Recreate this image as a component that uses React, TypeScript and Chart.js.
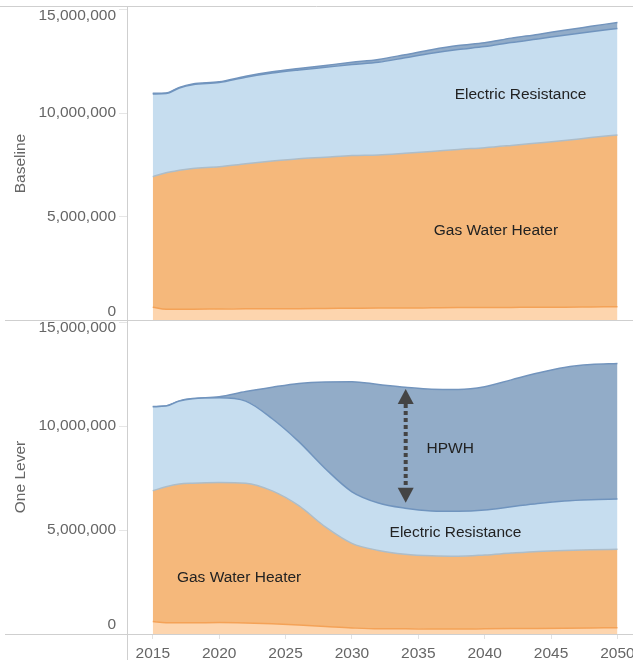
import React, { useEffect, useRef } from 'react';
import { Chart, registerables } from 'chart.js';

Chart.register(...registerables);

const years = [2015, 2016, 2017, 2018, 2020, 2022, 2024, 2026, 2028, 2030, 2032, 2034, 2036, 2038, 2040, 2042, 2044, 2046, 2048, 2050];
const xTickYears = [2015, 2020, 2025, 2030, 2035, 2040, 2045, 2050];
const yTickValues = [0, 5000000, 10000000, 15000000];

const seriesNames = ['Other Gas', 'Gas Water Heater', 'Electric Resistance', 'HPWH'];
const panelTitles = ['Baseline', 'One Lever'];

// Baseline scenario
const baselineOtherGas = [620000, 520000, 520000, 520000, 530000, 540000, 550000, 550000, 560000, 570000, 580000, 580000, 590000, 600000, 600000, 610000, 620000, 620000, 630000, 640000];
const baselineGasWaterHeater = [6310000, 6600000, 6720000, 6810000, 6880000, 7020000, 7140000, 7250000, 7310000, 7380000, 7400000, 7480000, 7560000, 7650000, 7730000, 7830000, 7940000, 8060000, 8190000, 8310000];
const baselineElectricResistance = [4000000, 3830000, 3980000, 4050000, 4070000, 4180000, 4250000, 4290000, 4350000, 4400000, 4480000, 4620000, 4750000, 4830000, 4890000, 4980000, 5030000, 5090000, 5120000, 5150000];
const baselineHpwh = [30000, 30000, 30000, 30000, 40000, 50000, 60000, 70000, 90000, 110000, 140000, 150000, 170000, 190000, 190000, 210000, 220000, 240000, 260000, 290000];

// One Lever scenario
const leverOtherGas = [600000, 540000, 540000, 540000, 550000, 530000, 490000, 430000, 360000, 290000, 250000, 250000, 240000, 240000, 250000, 260000, 270000, 280000, 290000, 300000];
const leverGasWaterHeater = [6290000, 6540000, 6670000, 6710000, 6730000, 6720000, 6390000, 5740000, 4790000, 4070000, 3770000, 3590000, 3520000, 3500000, 3550000, 3630000, 3700000, 3740000, 3760000, 3770000];
const leverElectricResistance = [4040000, 3880000, 3990000, 4060000, 4080000, 3950000, 3470000, 3080000, 2800000, 2480000, 2280000, 2210000, 2160000, 2160000, 2160000, 2230000, 2310000, 2380000, 2410000, 2420000];
const leverHpwh = [10000, 10000, 10000, 10000, 50000, 460000, 1520000, 2800000, 4170000, 5290000, 5700000, 5820000, 5850000, 5860000, 5930000, 6100000, 6270000, 6420000, 6500000, 6520000];

// In-chart labels (data coordinates)
const baselineLabels = [
  { text: 'Electric Resistance', x: 2042.7, y: 10880000 },
  { text: 'Gas Water Heater', x: 2040.85, y: 4300000 },
];
const leverLabels = [
  { text: 'HPWH', x: 2037.4, y: 8890000 },
  { text: 'Electric Resistance', x: 2037.8, y: 4870000 },
  { text: 'Gas Water Heater', x: 2021.5, y: 2710000 },
];
const leverArrow = { x: 2034.05, top: 11780000, bottom: 6310000 };

const FONT = '"Liberation Sans", Arial, sans-serif';
const FS = 15.5;

const fills = ['#fdd5ae', '#f5b87b', '#c6ddef', '#92acc8'];
const borders = ['#f4a257', '#adbdc9', '#7094be', '#7294bd'];

function buildDatasets(values: number[][]) {
  return values.map((vals, i) => ({
    label: seriesNames[i],
    data: years.map((yr, k) => ({ x: yr, y: vals[k] })),
    fill: i === 0 ? 'origin' : '-1',
    backgroundColor: fills[i],
    borderColor: borders[i],
    borderWidth: 1.5,
    pointRadius: 0,
    pointHoverRadius: 0,
    cubicInterpolationMode: 'monotone',
  }));
}

type PanelCfg = {
  title: string;
  values: number[][];
  yMax: number;
  showX: boolean;
  zeroShift: number;
  topShift: number;
  labels: { text: string; x: number; y: number }[];
  arrow?: { x: number; top: number; bottom: number };
  padTop: number;
};

function makePlugin(cfg: PanelCfg) {
  return {
    id: 'panelDecor',
    beforeDraw(chart: any) {
      const s = chart.scales.y;
      const items = s.getLabelItems();
      items.forEach((it: any) => {
        if (it.__shifted) return;
        it.__shifted = true;
        if (it.label === '0') it.options.translation[1] += cfg.zeroShift;
        if (it.label === '15,000,000') it.options.translation[1] += cfg.topShift;
      });
    },
    afterDatasetsDraw(chart: any) {
      const { ctx, scales } = chart;
      const xs = scales.x;
      const ys = scales.y;
      ctx.save();
      ctx.font = `${FS}px ${FONT}`;
      ctx.fillStyle = '#222';
      ctx.textAlign = 'center';
      ctx.textBaseline = 'middle';
      cfg.labels.forEach((l) => {
        ctx.fillText(l.text, xs.getPixelForValue(l.x), ys.getPixelForValue(l.y));
      });
      if (cfg.arrow) {
        const ax = xs.getPixelForValue(cfg.arrow.x);
        const yt = ys.getPixelForValue(cfg.arrow.top);
        const yb = ys.getPixelForValue(cfg.arrow.bottom);
        const head = 15;
        const hw = 8;
        ctx.fillStyle = '#444';
        ctx.strokeStyle = '#444';
        ctx.lineWidth = 4;
        ctx.setLineDash([4, 3]);
        ctx.beginPath();
        ctx.moveTo(ax, yt + head);
        ctx.lineTo(ax, yb - head);
        ctx.stroke();
        ctx.setLineDash([]);
        ctx.beginPath();
        ctx.moveTo(ax, yt);
        ctx.lineTo(ax - hw, yt + head);
        ctx.lineTo(ax + hw, yt + head);
        ctx.closePath();
        ctx.fill();
        ctx.beginPath();
        ctx.moveTo(ax, yb);
        ctx.lineTo(ax - hw, yb - head);
        ctx.lineTo(ax + hw, yb - head);
        ctx.closePath();
        ctx.fill();
      }
      ctx.restore();
    },
    afterDraw(chart: any) {
      const { ctx, chartArea, width, height } = chart;
      ctx.save();
      ctx.strokeStyle = '#cfcfcf';
      ctx.lineWidth = 1;
      ctx.beginPath();
      if (!cfg.showX) {
        const y = Math.round(chartArea.top) - 0.5;
        ctx.moveTo(0, y);
        ctx.lineTo(width, y);
      } else {
        ctx.moveTo(5, 0.5);
        ctx.lineTo(width, 0.5);
        const yb = Math.round(chartArea.bottom) + 0.5;
        ctx.moveTo(5, yb);
        ctx.lineTo(width, yb);
        const xl = Math.round(chartArea.left) + 0.5;
        ctx.moveTo(xl, chartArea.bottom);
        ctx.lineTo(xl, height);
      }
      ctx.stroke();
      ctx.restore();
    },
  };
}

function createPanel(canvas: HTMLCanvasElement, cfg: PanelCfg) {
  return new Chart(canvas, {
    type: 'line',
    data: { datasets: buildDatasets(cfg.values) as any },
    plugins: [makePlugin(cfg)],
    options: {
      animation: false,
      responsive: false,
      devicePixelRatio: 1,
      events: [],
      layout: { autoPadding: false, padding: { top: cfg.padTop, left: 0, right: 0, bottom: 0 } },
      plugins: { legend: { display: false }, tooltip: { enabled: false } },
      scales: {
        x: {
          type: 'linear',
          display: cfg.showX,
          min: 2013.06,
          max: 2051.17,
          afterBuildTicks: (s: any) => {
            s.ticks = xTickYears.map((v) => ({ value: v }));
          },
          afterFit: (s: any) => {
            if (cfg.showX) s.height = 26;
            s.paddingLeft = 0;
            s.paddingRight = 0;
          },
          ticks: {
            callback: (v: any) => String(v),
            color: '#666',
            font: { family: FONT, size: FS },
            padding: 5,
            maxRotation: 0,
            autoSkip: false,
          },
          grid: { drawOnChartArea: false, drawTicks: true, tickLength: 5, tickColor: '#e2e2e2' },
          border: { display: true, color: '#cfcfcf' },
        },
        y: {
          type: 'linear',
          stacked: true,
          min: 0,
          max: cfg.yMax,
          afterBuildTicks: (s: any) => {
            s.ticks = yTickValues.map((v) => ({ value: v }));
          },
          afterFit: (s: any) => {
            s.width = 127;
            s.paddingTop = 0;
            s.paddingBottom = 0;
          },
          ticks: {
            callback: (v: any) => Number(v).toLocaleString('en-US'),
            color: '#666',
            font: { family: FONT, size: FS },
            padding: 3,
            autoSkip: false,
          },
          grid: { drawOnChartArea: false, drawTicks: true, tickLength: 8, tickColor: '#e6e6e6' },
          border: { display: true, color: '#cfcfcf' },
          title: {
            display: true,
            text: cfg.title,
            color: '#666',
            font: { family: FONT, size: FS },
            padding: { top: 11, bottom: 0 },
          },
        },
      },
    } as any,
  });
}

export default function App() {
  const topRef = useRef<HTMLCanvasElement>(null);
  const botRef = useRef<HTMLCanvasElement>(null);

  useEffect(() => {
    const top = createPanel(topRef.current!, {
      title: panelTitles[0],
      values: [baselineOtherGas, baselineGasWaterHeater, baselineElectricResistance, baselineHpwh],
      yMax: 15135000,
      showX: false,
      zeroShift: -8,
      topShift: 6,
      labels: baselineLabels,
      padTop: 7,
    });
    const bot = createPanel(botRef.current!, {
      title: panelTitles[1],
      values: [leverOtherGas, leverGasWaterHeater, leverElectricResistance, leverHpwh],
      yMax: 15100000,
      showX: true,
      zeroShift: -9,
      topShift: 6,
      labels: leverLabels,
      arrow: leverArrow,
      padTop: 0,
    });
    return () => {
      top.destroy();
      bot.destroy();
    };
  }, []);

  return (
    <div style={{ position: 'absolute', left: 0, top: 0, width: 633, height: 660, background: '#fff' }}>
      <canvas ref={topRef} width={633} height={320} style={{ display: 'block', width: 633, height: 320 }} />
      <canvas ref={botRef} width={633} height={340} style={{ display: 'block', width: 633, height: 340 }} />
    </div>
  );
}
